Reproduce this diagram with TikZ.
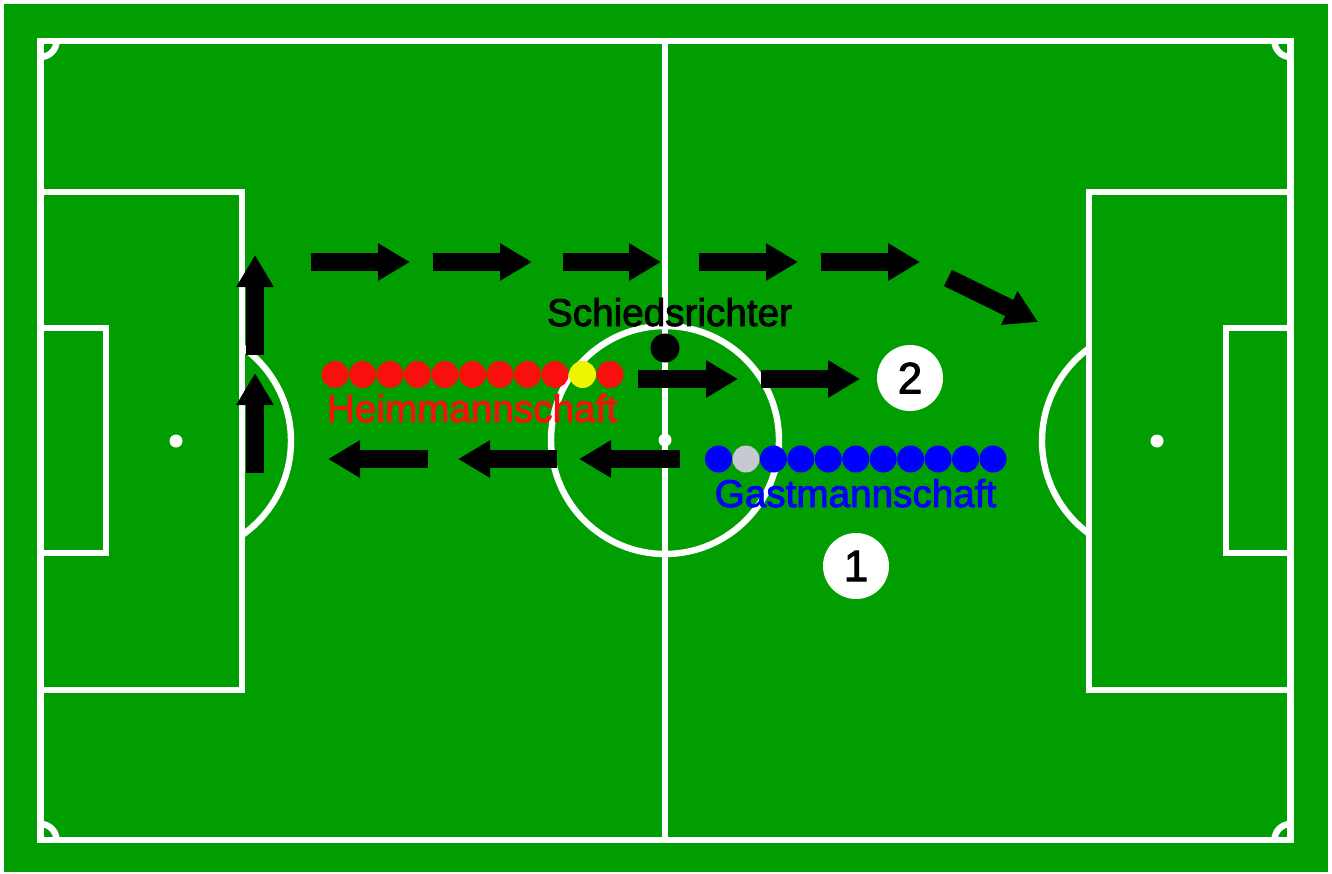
\documentclass[tikz,border=0pt]{standalone}
\usepackage{fontspec}
\setmainfont{Liberation Sans}[BoldFont=Liberation Sans,BoldFeatures={FakeBold=2.2}]
\usetikzlibrary{arrows.meta}
\definecolor{pitch}{RGB}{0,158,0}
\definecolor{homered}{RGB}{250,15,15}
\definecolor{keeperyellow}{RGB}{238,245,0}
\definecolor{awayblue}{RGB}{0,0,255}
\definecolor{keepergrey}{RGB}{200,200,210}
\begin{document}
\begin{tikzpicture}[x=0.75pt,y=-0.75pt,
  pline/.style={white,line width=4.8pt},
  blockarrow/.style={line width=13.5pt,-{Triangle[length=24pt,width=26.5pt]}},
  dot/.style={circle,inner sep=0pt,minimum size=20.25pt},
  label/.style={font=\fontsize{29}{32}\selectfont\bfseries,anchor=base},
  numcircle/.style={circle,fill=white,inner sep=0pt,minimum size=49.5pt,font=\fontsize{33}{36}\selectfont\bfseries}]
\useasboundingbox (0,0) rectangle (1332,874);
\fill[white] (0,0) rectangle (1332,874);
\fill[pitch] (4,4) rectangle (1328,872);
% field markings
\draw[pline] (40.5,41) rectangle (1290.5,840);
\draw[pline] (665,41) -- (665,840);
\draw[pline] (665,440) circle[radius=114];
\fill[white] (665,440) circle[radius=6.5];
\draw[pline] (40.5,192) rectangle (242,690);
\draw[pline] (40.5,328) rectangle (106,553);
\fill[white] (176,441) circle[radius=6.5];
\begin{scope}
  \clip (242,300) rectangle (400,600);
  \draw[pline] (176,441) circle[radius=115];
\end{scope}
\draw[pline] (1089,192) rectangle (1290.5,690);
\draw[pline] (1226,328) rectangle (1290.5,553);
\fill[white] (1157,441) circle[radius=6.5];
\begin{scope}
  \clip (900,300) rectangle (1089,600);
  \draw[pline] (1157,441) circle[radius=115];
\end{scope}
% corner arcs
\begin{scope}
  \clip (40.5,41) rectangle (1290.5,840);
  \draw[pline] (40.5,41) circle[radius=16];
  \draw[pline] (1290.5,41) circle[radius=16];
  \draw[pline] (40.5,840) circle[radius=16];
  \draw[pline] (1290.5,840) circle[radius=16];
\end{scope}
% arrows
\coordinate (a1s) at (311,262); \coordinate (a1e) at (410,262);
\coordinate (a2s) at (433,262); \coordinate (a2e) at (532,262);
\coordinate (a3s) at (563,262); \coordinate (a3e) at (661,262);
\coordinate (a4s) at (699,262); \coordinate (a4e) at (798,262);
\coordinate (a5s) at (821,262); \coordinate (a5e) at (920,262);
\coordinate (a6s) at (948,278); \coordinate (a6e) at (1038,322);
\coordinate (v1s) at (255,355); \coordinate (v1e) at (255,255);
\coordinate (v2s) at (255,473); \coordinate (v2e) at (255,373);
\coordinate (m1s) at (638,379); \coordinate (m1e) at (738,379);
\coordinate (m2s) at (761,379); \coordinate (m2e) at (860,379);
\coordinate (b1s) at (680,459); \coordinate (b1e) at (579,459);
\coordinate (b2s) at (557,459); \coordinate (b2e) at (458,459);
\coordinate (b3s) at (428,459); \coordinate (b3e) at (328,459);
\foreach \s/\e in {a1s/a1e,a2s/a2e,a3s/a3e,a4s/a4e,a5s/a5e,a6s/a6e,v1s/v1e,v2s/v2e,m1s/m1e,m2s/m2e,b1s/b1e,b2s/b2e,b3s/b3e}
  \draw[blockarrow] (\s) -- (\e);
% players
\foreach \i in {0,...,10} {
  \pgfmathsetmacro{\px}{335+27.5*\i}
  \ifnum\i=9
    \node[dot,fill=keeperyellow] (h\i) at (\px,374.5) {};
  \else
    \node[dot,fill=homered] (h\i) at (\px,374.5) {};
  \fi
}
\foreach \i in {0,...,10} {
  \pgfmathsetmacro{\px}{718.5+27.45*\i}
  \ifnum\i=1
    \node[dot,fill=keepergrey] (g\i) at (\px,459) {};
  \else
    \node[dot,fill=awayblue] (g\i) at (\px,459) {};
  \fi
}
\node[circle,fill=black,inner sep=0pt,minimum size=21.75pt] (ref) at (665,348) {};
% labels
\node[label,text=black] (reflabel) at (669.5,326) {Schiedsrichter};
\node[label,text=homered] (homelabel) at (472,422) {Heimmannschaft};
\node[label,text=awayblue] (awaylabel) at (855.5,507) {Gastmannschaft};
\node[numcircle] (n2) at (910,378) {2};
\node[numcircle] (n1) at (856,566) {1};
\end{tikzpicture}
\end{document}
